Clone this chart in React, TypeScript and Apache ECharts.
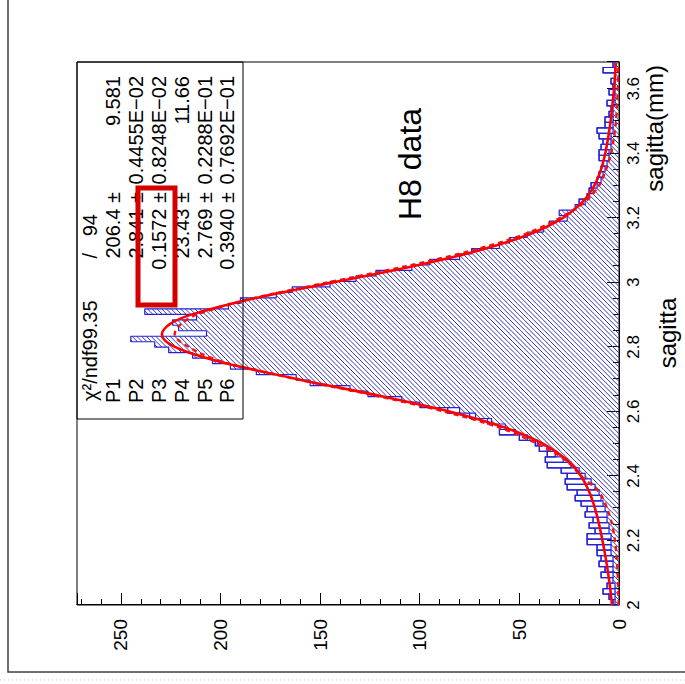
import React, { useEffect, useRef } from 'react';
import * as echarts from 'echarts';

// ---------- data ----------
const BIN_START = 2.0;
const BIN_WIDTH = 0.017;

// data histogram (blue outline), one value per bin
const dataCounts = [
  3, 5, 8, 6, 5, 9, 7, 10, 9, 11,
  11, 16, 16, 12, 15, 13, 17, 16, 19, 22,
  21, 26, 27, 26, 29, 36, 37, 36, 40, 42,
  50, 60, 57, 66, 75, 86, 100, 109, 126, 135,
  155, 162, 182, 195, 204, 214, 226, 233, 245, 207,
  221, 224, 212, 238, 196, 190, 172, 164, 145, 132,
  122, 104, 95, 80, 74, 60, 55, 46, 38, 35,
  26, 30, 22, 20, 16, 15, 14, 11, 10, 9,
  8, 10, 10, 9, 8, 10, 11, 7, 7, 5,
  4, 6, 3, 5, 3, 4, 2, 8, 3,
];

// hatched histogram, one value per bin
const hatchCounts = [
  2, 2, 2, 2, 3, 3, 3, 3, 3, 4,
  4, 4, 4, 5, 5, 6, 6, 7, 8, 9,
  10, 12, 14, 17, 20, 24, 28, 32, 36, 41,
  46, 52, 57, 64, 72, 80, 100, 109, 126, 135,
  155, 162, 182, 195, 204, 214, 226, 233, 245, 207,
  221, 224, 212, 238, 196, 190, 172, 164, 145, 132,
  122, 104, 95, 80, 74, 60, 55, 46, 38, 35,
  26, 30, 22, 17, 15, 13, 11, 9, 8, 7,
  6, 5, 5, 4, 4, 4, 3, 3, 3, 3,
  3, 2, 2, 2, 2, 2, 2, 2, 2,
];

// fitted curves (sampled)
const fitX = [
  2.0, 2.05, 2.1, 2.15, 2.2, 2.25, 2.3, 2.35, 2.4, 2.45,
  2.5, 2.55, 2.6, 2.65, 2.7, 2.75, 2.78, 2.8, 2.82, 2.84,
  2.87, 2.9, 2.95, 3.0, 3.05, 3.1, 3.15, 3.2, 3.25, 3.3,
  3.35, 3.4, 3.45, 3.5, 3.55, 3.6, 3.65, 3.68,
];
const fitSolid = [
  3.5, 4.4, 5.5, 6.8, 8.3, 10.0, 12.1, 14.9, 19.1, 26.2,
  38.2, 57.3, 85.1, 121.1, 161.2, 198.0, 214.8, 222.9, 227.9, 229.4,
  225.6, 214.6, 183.4, 143.5, 103.4, 69.5, 44.6, 28.1, 18.2, 12.4,
  9.0, 6.9, 5.4, 4.2, 3.3, 2.5, 1.9, 1.6,
];
const fitDashed = [
  0.2, 0.4, 0.7, 1.2, 2, 3.5, 6, 10, 19, 27,
  41, 60, 88, 123, 162, 197, 210, 216, 221, 223,
  220, 212, 184, 146, 107, 73, 47, 29.5, 17, 10,
  6.5, 4, 2.5, 1.5, 1, 0.6, 0.4, 0.3,
];

// statistics box
const chiLabel = 'χ²/ndf99.35';
const chiNdf = '/   94';
const statLabels = ['P1', 'P2', 'P3', 'P4', 'P5', 'P6'];
const statValues = ['206.4 ±', '2.841 ±', '0.1572 ±', '23.43 ±', '2.769 ±', '0.3940 ±'];
const statErrors = ['9.581', '0.4455E−02', '0.8248E−02', '11.66', '0.2288E−01', '0.7692E−01'];

const COUNT_MAX = 272;
const X_MIN = 2;
const X_MAX = BIN_START + dataCounts.length * BIN_WIDTH;

const FONT = 'Liberation Sans, Arial, Helvetica, sans-serif';
const HATCH = '#3434b4';
const OUTLINE = '#2222d6';

export default function App() {
  const ref = useRef<HTMLDivElement>(null);

  useEffect(() => {
    if (!ref.current) return;
    const chart = echarts.init(ref.current, undefined, { renderer: 'svg' });

    const bins = dataCounts.map((d, i) => {
      const lo = BIN_START + i * BIN_WIDTH;
      return [lo, lo + BIN_WIDTH, d, hatchCounts[i]];
    });
    const stepData: number[][] = [[BIN_START, 0]];
    dataCounts.forEach((d, i) => stepData.push([BIN_START + i * BIN_WIDTH, d]));
    stepData.push([X_MAX, dataCounts[dataCounts.length - 1]]);

    const K = 4.75;
    const renderBin = (params: any, api: any) => {
      const lo = api.value(0);
      const hi = api.value(1);
      const d = api.value(2);
      const h = api.value(3);
      const p0 = api.coord([lo, 0]);
      const pH = api.coord([hi, h]);
      const pD = api.coord([hi, d]);
      const x0 = p0[0];
      const x1 = pH[0];
      const yB = p0[1];
      const yH = pH[1];
      const yD = pD[1];
      const children: any[] = [];
      if (yB - yH > 0.3) {
        const cStart = Math.ceil((x0 + yH) / K) * K;
        for (let c = cStart; c <= x1 + yB; c += K) {
          const a = Math.max(yH, c - x1);
          const b = Math.min(yB, c - x0);
          if (b > a) {
            children.push({
              type: 'line',
              silent: true,
              shape: { x1: c - a, y1: a, x2: c - b, y2: b },
              style: { stroke: HATCH, lineWidth: 1 },
            });
          }
        }
      }
      if (Math.abs(yD - yH) > 0.5) {
        children.push({
          type: 'rect',
          silent: true,
          shape: { x: x0, y: Math.min(yD, yH), width: x1 - x0, height: Math.abs(yD - yH) },
          style: { fill: 'none', stroke: OUTLINE, lineWidth: 1.2 },
        });
      }
      return { type: 'group', children };
    };

    const rowY = [90, 112.9, 135.8, 158.7, 181.6, 204.5, 227.4];
    const statFont = `20px ${FONT}`;
    const txt = (text: string, x: number, y: number, align: string, font: string, vAlign = 'middle') => ({
      type: 'text',
      x,
      y,
      silent: true,
      style: { text, fill: '#000', font, textAlign: align, textVerticalAlign: vAlign },
      z: 100,
    });

    const graphics: any[] = [
      // outer canvas frame
      {
        type: 'rect', silent: true, z: 90,
        shape: { x: 12, y: 8, width: 720, height: 720 },
        style: { fill: 'none', stroke: '#404040', lineWidth: 1.5 },
      },
      {
        type: 'line', silent: true, z: 90,
        shape: { x1: 4, y1: 0, x2: 4, y2: 685 },
        style: { stroke: '#c4c4c4', lineWidth: 1, lineDash: [1, 3] },
      },
      // stats box
      {
        type: 'rect', silent: true, z: 95,
        shape: { x: 265, y: 77, width: 357, height: 166 },
        style: { fill: 'none', stroke: '#000', lineWidth: 1 },
      },
      txt(chiLabel, 283, rowY[0], 'left', statFont),
      txt(chiNdf, 470, rowY[0], 'right', statFont),
      ...statLabels.map((s, i) => txt(s, 281, rowY[i + 1], 'left', statFont)),
      ...statValues.map((s, i) => txt(s, 492, rowY[i + 1], 'right', statFont)),
      ...statErrors.map((s, i) => txt(s, 608, rowY[i + 1], 'right', statFont)),
      // red highlight
      {
        type: 'rect', silent: true, z: 110,
        shape: { x: 379, y: 138, width: 117, height: 37 },
        style: { fill: 'none', stroke: '#d40000', lineWidth: 5 },
      },
      // titles
      txt('H8 data', 464, 410, 'left', `32px ${FONT}`),
      txt('sagitta(mm)', 619, 654, 'right', `24px ${FONT}`),
      txt('sagitta', 351, 667, 'center', `24px ${FONT}`),
    ];

    const option: any = {
      animation: false,
      backgroundColor: '#fff',
      grid: {
        left: 79, right: 62, top: 77, bottom: 66,
        show: true, borderColor: '#000', borderWidth: 1,
        containLabel: false, outerBoundsMode: 'none',
      },
      xAxis: {
        type: 'value',
        min: X_MIN,
        max: X_MAX,
        interval: 0.2,
        axisLine: { show: true, onZero: false, lineStyle: { color: '#000', width: 1 } },
        axisTick: { show: true, inside: true, length: 12, lineStyle: { color: '#000' } },
        minorTick: { show: true, splitNumber: 4, length: 6, lineStyle: { color: '#000' } },
        splitLine: { show: false },
        axisLabel: {
          color: '#000', fontSize: 17, fontFamily: FONT, margin: 6,
          showMaxLabel: false,
          formatter: (v: number) => String(+v.toFixed(1)),
        },
      },
      yAxis: {
        type: 'value',
        min: 0,
        max: COUNT_MAX,
        interval: 50,
        axisLine: { show: true, onZero: false, lineStyle: { color: '#000', width: 1 } },
        axisTick: { show: true, inside: true, length: 12, lineStyle: { color: '#000' } },
        minorTick: { show: true, splitNumber: 5, length: 6, lineStyle: { color: '#000' } },
        splitLine: { show: false },
        axisLabel: {
          color: '#000', fontSize: 19, fontFamily: FONT, margin: 14,
          showMaxLabel: false,
        },
      },
      series: [
        {
          type: 'custom',
          renderItem: renderBin,
          data: bins,
          encode: { x: [0, 1], y: [2, 3] },
          z: 2,
          silent: true,
        },
        {
          type: 'line',
          data: stepData,
          step: 'end',
          showSymbol: false,
          lineStyle: { color: OUTLINE, width: 1.2 },
          z: 3,
          silent: true,
        },
        {
          type: 'line',
          data: fitX.map((x, i) => [x, fitDashed[i]]),
          smooth: 0.3,
          showSymbol: false,
          lineStyle: { color: '#ee1515', width: 2.4, type: [5, 4] },
          z: 4,
          silent: true,
        },
        {
          type: 'line',
          data: fitX.map((x, i) => [x, fitSolid[i]]),
          smooth: 0.3,
          showSymbol: false,
          lineStyle: { color: '#ff0000', width: 2.6 },
          z: 5,
          silent: true,
        },
      ],
      graphic: { elements: graphics },
    };

    chart.setOption(option);
    return () => chart.dispose();
  }, []);

  return (
    <div
      style={{
        position: 'fixed', left: 0, top: 0, width: 685, height: 684,
        overflow: 'hidden', background: '#fff',
      }}
    >
      <div
        ref={ref}
        style={{
          position: 'absolute', left: 0, top: 0, width: 684, height: 685,
          transformOrigin: '0 0',
          transform: 'translate(0px, 684px) rotate(-90deg)',
        }}
      />
    </div>
  );
}
